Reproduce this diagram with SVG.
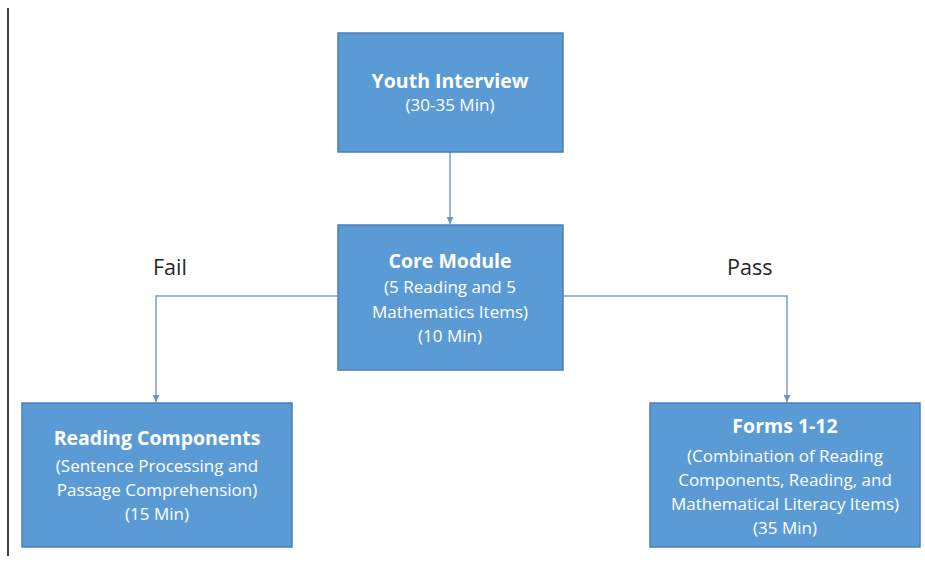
<svg xmlns="http://www.w3.org/2000/svg" width="925" height="562" viewBox="0 0 925 562">
<style>
.box{fill:#5b9bd5;stroke:#4a7ebb;stroke-width:1.5}
.t{font-family:"Open Sans","Liberation Sans",sans-serif;fill:#ffffff;text-anchor:middle}
.b{font-weight:bold;font-size:19.5px}
.r{font-size:17px}
.lbl{font-family:"Open Sans","Liberation Sans",sans-serif;font-size:21.5px;fill:#262626}
.con{fill:none;stroke:#7a9fd0;stroke-width:1.5}
</style>
<defs>
<marker id="ah" viewBox="0 0 10 10" refX="10" refY="5" markerWidth="7" markerHeight="7" orient="auto" markerUnits="userSpaceOnUse">
<path d="M0,0 L10,5 L0,10 z" fill="#6f93c6"/>
</marker>
</defs>
<rect x="0" y="0" width="925" height="562" fill="#ffffff"/>
<line x1="8" y1="8" x2="8" y2="556" stroke="#000000" stroke-width="1.5"/>
<g id="connectors">
<path class="con" d="M450,152 V224" marker-end="url(#ah)"/>
<path class="con" d="M338,296 H156 V402" marker-end="url(#ah)"/>
<path class="con" d="M563,296 H787 V402" marker-end="url(#ah)"/>
</g>
<g id="youth">
<rect class="box" x="338" y="33" width="225" height="119"/>
<text class="t b" x="450" y="88">Youth Interview</text>
<text class="t r" x="450" y="111">(30-35 Min)</text>
</g>
<g id="core">
<rect class="box" x="338" y="225" width="225" height="145"/>
<text class="t b" x="450" y="268">Core Module</text>
<text class="t r" x="450" y="293">(5 Reading and 5</text>
<text class="t r" x="450" y="318">Mathematics Items)</text>
<text class="t r" x="450" y="342">(10 Min)</text>
</g>
<g id="reading">
<rect class="box" x="22" y="403" width="270" height="144"/>
<text class="t b" x="157" y="445">Reading Components</text>
<text class="t r" x="157" y="472">(Sentence Processing and</text>
<text class="t r" x="157" y="496">Passage Comprehension)</text>
<text class="t r" x="157" y="520">(15 Min)</text>
</g>
<g id="forms">
<rect class="box" x="650" y="403" width="270" height="144"/>
<text class="t b" x="785" y="433">Forms 1-12</text>
<text class="t r" x="785" y="462">(Combination of Reading</text>
<text class="t r" x="785" y="486">Components, Reading, and</text>
<text class="t r" x="785" y="510">Mathematical Literacy Items)</text>
<text class="t r" x="785" y="534">(35 Min)</text>
</g>
<g id="labels">
<text class="lbl" x="153" y="275">Fail</text>
<text class="lbl" x="727" y="275">Pass</text>
</g>
</svg>
